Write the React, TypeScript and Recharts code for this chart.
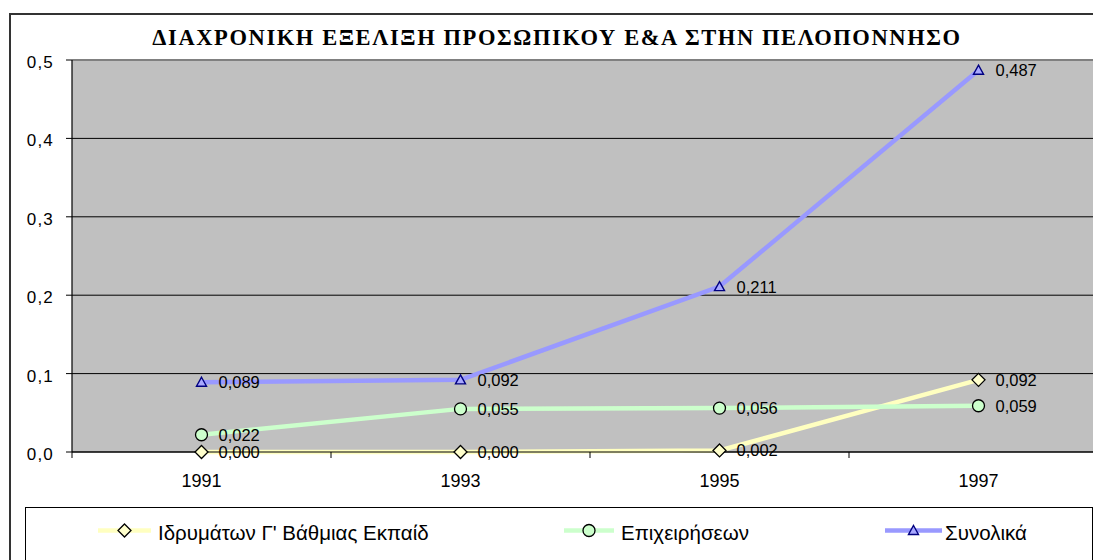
import React from 'react';
import { LineChart, Line, XAxis, YAxis, CartesianGrid, ReferenceLine, LabelList } from 'recharts';

const years = ['1991', '1993', '1995', '1997'];
const idrymata = [0.0, 0.0, 0.002, 0.092];
const epixeiriseis = [0.022, 0.055, 0.056, 0.059];
const synolika = [0.089, 0.092, 0.211, 0.487];
const yTicks = [0, 0.1, 0.2, 0.3, 0.4, 0.5];
const seriesNames = ["Ιδρυμάτων Γ' Βάθμιας Εκπαίδ", 'Επιχειρήσεων', 'Συνολικά'];
const title = 'ΔΙΑΧΡΟΝΙΚΗ ΕΞΕΛΙΞΗ ΠΡΟΣΩΠΙΚΟΥ Ε&Α ΣΤΗΝ ΠΕΛΟΠΟΝΝΗΣΟ';

const data = years.map((y, i) => ({ idx: i, year: y, a: idrymata[i], b: epixeiriseis[i], c: synolika[i] }));
const xTicks = years.flatMap((_, i) => [i - 0.5, i]).concat([years.length - 0.5]);

const SANS = '"Liberation Sans", Arial, sans-serif';
const SERIF = '"Liberation Serif", "Times New Roman", serif';

const COLORS = {
  a: { line: '#FFFFC0', fill: '#FFFFCC', stroke: '#000000' },
  b: { line: '#CCFFCC', fill: '#CCFFCC', stroke: '#000000' },
  c: { line: '#9999FF', fill: '#A8A8FF', stroke: '#000080' },
};

const Diamond = ({ cx, cy }: any) => (
  <polygon
    points={`${cx},${cy - 6.5} ${cx + 6.5},${cy} ${cx},${cy + 6.5} ${cx - 6.5},${cy}`}
    fill={COLORS.a.fill}
    stroke={COLORS.a.stroke}
    strokeWidth={1.3}
  />
);
const Circle = ({ cx, cy }: any) => (
  <circle cx={cx} cy={cy} r={6} fill={COLORS.b.fill} stroke={COLORS.b.stroke} strokeWidth={1.3} />
);
const Triangle = ({ cx, cy }: any) => (
  <polygon
    points={`${cx},${cy - 5} ${cx + 5},${cy + 4} ${cx - 5},${cy + 4}`}
    fill={COLORS.c.fill}
    stroke={COLORS.c.stroke}
    strokeWidth={1.4}
  />
);

const fmt3 = (v: number) => v.toFixed(3).replace('.', ',');
const fmt1 = (v: number) => v.toFixed(1).replace('.', ',');

const renderLabel = (props: any) => {
  const vb = props.viewBox || {};
  const x = vb.x ?? props.x;
  const y = vb.y ?? props.y;
  return (
    <text x={x + 17} y={y} dominantBaseline="central" fontFamily={SANS} fontSize={16.5} fill="#000">
      {fmt3(Number(props.value))}
    </text>
  );
};

const XTick = (props: any) => {
  const { x, y, payload } = props;
  const v = payload.value;
  if (Number.isInteger(v)) {
    return (
      <text x={x} y={y + 21} textAnchor="middle" dominantBaseline="central" fontFamily={SANS} fontSize={18} fill="#000">
        {years[v]}
      </text>
    );
  }
  return <line x1={x} x2={x} y1={y - 8} y2={y - 2} stroke="#000" strokeWidth={1} />;
};

const Legend = () => {
  const items = [
    { name: seriesNames[0], color: COLORS.a.line, Marker: Diamond, lx: 72, lw: 53, tx: 132 },
    { name: seriesNames[1], color: COLORS.b.line, Marker: Circle, lx: 538, lw: 50, tx: 595 },
    { name: seriesNames[2], color: COLORS.c.line, Marker: Triangle, lx: 859, lw: 57, tx: 919 },
  ];
  return (
    <div
      style={{
        position: 'absolute',
        left: 25,
        top: 507,
        width: 1066,
        height: 80,
        border: '1px solid #000',
        background: '#fff',
      }}
    >
      <svg width={1066} height={80} style={{ display: 'block' }}>
        {items.map((it, i) => (
          <g key={i}>
            <line x1={it.lx} x2={it.lx + it.lw} y1={22.5} y2={22.5} stroke={it.color} strokeWidth={4.5} />
            <it.Marker cx={it.lx + it.lw / 2} cy={22.5} />
            <text x={it.tx} y={32} fontFamily={SANS} fontSize={20.5} fill="#000">
              {it.name}
            </text>
          </g>
        ))}
      </svg>
    </div>
  );
};

export default function App() {
  return (
    <div
      style={{
        position: 'absolute',
        left: 0,
        top: 0,
        width: 1093,
        height: 560,
        overflow: 'hidden',
        background: '#fff',
      }}
    >
      <div
        style={{
          position: 'absolute',
          left: 9,
          top: 13,
          width: 1200,
          height: 700,
          border: '2px solid #333',
          boxSizing: 'border-box',
        }}
      />
      <div
        style={{
          position: 'absolute',
          left: 0,
          top: 27,
          width: 1114,
          textAlign: 'center',
          fontFamily: SERIF,
          fontWeight: 900,
          fontSize: 22.5,
          letterSpacing: 1.6,
          lineHeight: '22px',
          color: '#000',
          whiteSpace: 'nowrap',
        }}
      >
        {title}
      </div>
      <div style={{ position: 'absolute', left: 0, top: 0 }}>
        <LineChart width={1160} height={600} data={data} margin={{ top: 60, right: 52, left: 12, bottom: 108 }}>
          <CartesianGrid fill="#C0C0C0" stroke="#000" vertical={false} horizontalValues={yTicks} />
          <ReferenceLine y={0.5} stroke="#808080" strokeWidth={2} ifOverflow="visible" />
          <XAxis
            dataKey="idx"
            type="number"
            domain={[-0.5, years.length - 0.5]}
            ticks={xTicks}
            interval={0}
            height={40}
            tickLine={false}
            tick={<XTick />}
            axisLine={{ stroke: '#000', strokeWidth: 1.2 }}
            allowDataOverflow
          />
          <YAxis
            type="number"
            domain={[0, 0.5]}
            ticks={yTicks}
            interval={0}
            width={60}
            tickSize={6}
            tickMargin={12}
            tickFormatter={fmt1}
            tick={{ fontSize: 17, fill: '#000', fontFamily: SANS, dy: 2, letterSpacing: 1.2 }}
            tickLine={{ stroke: '#000' }}
            axisLine={{ stroke: '#000', strokeWidth: 1.2 }}
          />
          <Line
            dataKey="a"
            name={seriesNames[0]}
            type="linear"
            stroke={COLORS.a.line}
            strokeWidth={4.5}
            dot={(p: any) => <Diamond key={`a${p.index}`} cx={p.cx} cy={p.cy} />}
            isAnimationActive={false}
          >
            <LabelList dataKey="a" content={renderLabel} />
          </Line>
          <Line
            dataKey="b"
            name={seriesNames[1]}
            type="linear"
            stroke={COLORS.b.line}
            strokeWidth={4.5}
            dot={(p: any) => <Circle key={`b${p.index}`} cx={p.cx} cy={p.cy} />}
            isAnimationActive={false}
          >
            <LabelList dataKey="b" content={renderLabel} />
          </Line>
          <Line
            dataKey="c"
            name={seriesNames[2]}
            type="linear"
            stroke={COLORS.c.line}
            strokeWidth={4.5}
            dot={(p: any) => <Triangle key={`c${p.index}`} cx={p.cx} cy={p.cy} />}
            isAnimationActive={false}
          >
            <LabelList dataKey="c" content={renderLabel} />
          </Line>
        </LineChart>
      </div>
      <Legend />
    </div>
  );
}
